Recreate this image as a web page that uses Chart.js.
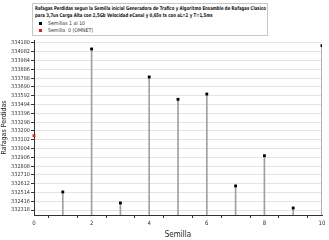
<!DOCTYPE html>
<html>
<head>
<meta charset="utf-8">
<script src="https://cdn.jsdelivr.net/npm/chart.js@4.4.1/dist/chart.umd.min.js"></script>
<style>
  html, body { margin: 0; padding: 0; background: #fff; }
  #wrap { position: relative; width: 329px; height: 240px; }
  #box {
    position: absolute; left: 32px; top: 3px; width: 236px; height: 33px;
    border: 1px solid #c8c8c8; background: #fff;
    font-family: 'Liberation Sans Narrow', 'DejaVu Sans Condensed', sans-serif;
    font-size: 5.2px; line-height: 7.3px; color: #111; box-sizing: border-box;
    padding: 1px 0 0 2px; white-space: nowrap;
  }
  #box .t { font-weight: bold; transform: scaleX(0.83); transform-origin: left center; }
  #box .l { padding-left: 4px; color: #333; }
  #box .m { display: inline-block; width: 3px; height: 3px; margin-right: 6px; vertical-align: 0px; }
</style>
</head>
<body>
<div id="wrap">
  <canvas id="chart" width="329" height="240"></canvas>
  <div id="box">
    <div class="t">Rafagas Perdidas segun la Semilla inicial Generadora de Trafico y Algoritmo Ensamble de Rafagas Clasico</div>
    <div class="t">para 3,7us Carga Alta con 2,5Gb Velocidad eCanal y 0,65s ts con aL=2 y T=1,5ms</div>
    <div class="l"><span class="m" style="background:#000"></span>Semillas 1 al 10</div>
    <div class="l"><span class="m" style="background:#d42020"></span>Semilla&nbsp; 0 (OMNET)</div>
  </div>
</div>
<script>
// Data
const seeds = [1, 2, 3, 4, 5, 6, 7, 8, 9, 10];
const perdidas = [332520, 334113, 332397, 333801, 333552, 333611, 332587, 332924, 332341, 334150];
const omnetSeed = [0];
const omnetPerdidas = [333147];
const yTicks = [332318, 332416, 332514, 332612, 332710, 332808, 332906, 333004, 333102, 333200,
                333298, 333396, 333494, 333592, 333690, 333788, 333886, 333984, 334082, 334180];
const yMin = 332263, yMax = 334213;

const FONT = "'Liberation Sans Narrow', 'DejaVu Sans Condensed', sans-serif";

const pts = seeds.map((s, i) => ({ x: s, y: perdidas[i] }));
const omnetPts = omnetSeed.map((s, i) => ({ x: s, y: omnetPerdidas[i] }));

new Chart(document.getElementById('chart'), {
  data: {
    datasets: [
      {
        type: 'bar',
        data: pts,
        base: yMin,
        backgroundColor: '#a0a0a0',
        barThickness: 1,
        order: 3
      },
      {
        type: 'scatter',
        data: pts,
        pointStyle: 'rect',
        pointRadius: 2,
        backgroundColor: '#000',
        borderColor: '#000',
        borderWidth: 0,
        order: 1
      },
      {
        type: 'scatter',
        data: omnetPts,
        pointStyle: 'rect',
        pointRadius: 2,
        backgroundColor: '#d42020',
        borderColor: '#d42020',
        borderWidth: 0,
        clip: false,
        order: 0
      }
    ]
  },
  options: {
    responsive: false,
    animation: false,
    events: [],
    layout: { padding: { top: 40, right: 7, left: 0, bottom: 0 } },
    plugins: { legend: { display: false }, tooltip: { enabled: false } },
    scales: {
      x: {
        type: 'linear',
        min: 0,
        max: 10,
        offset: false,
        border: { color: '#333', width: 1 },
        grid: { drawOnChartArea: false, drawTicks: true, tickLength: 3, color: '#333' },
        ticks: {
          stepSize: 1,
          autoSkip: false,
          maxRotation: 0,
          padding: 2,
          color: '#333',
          font: { family: FONT, size: 6 },
          callback: v => (v % 2 === 0 ? String(v) : '')
        },
        title: { display: true, text: 'Semilla', color: '#222', font: { family: FONT, size: 8 }, padding: { top: 0, bottom: 0 } },
        afterFit: s => { s.height = 25; }
      },
      y: {
        type: 'linear',
        min: yMin,
        max: yMax,
        border: { color: '#333', width: 1 },
        grid: { color: '#e4e4e4', tickColor: '#333', tickLength: 3 },
        afterBuildTicks: s => { s.ticks = yTicks.map(v => ({ value: v })); },
        ticks: {
          autoSkip: false,
          padding: 1,
          color: '#333',
          font: { family: FONT, size: 5.5 },
          callback: v => String(v)
        },
        title: { display: true, text: 'Rafagas Perdidas', color: '#222', font: { family: FONT, size: 7 }, padding: { top: 0, bottom: 0 } },
        afterFit: s => { s.width = 34; }
      }
    }
  }
});
</script>
</body>
</html>
